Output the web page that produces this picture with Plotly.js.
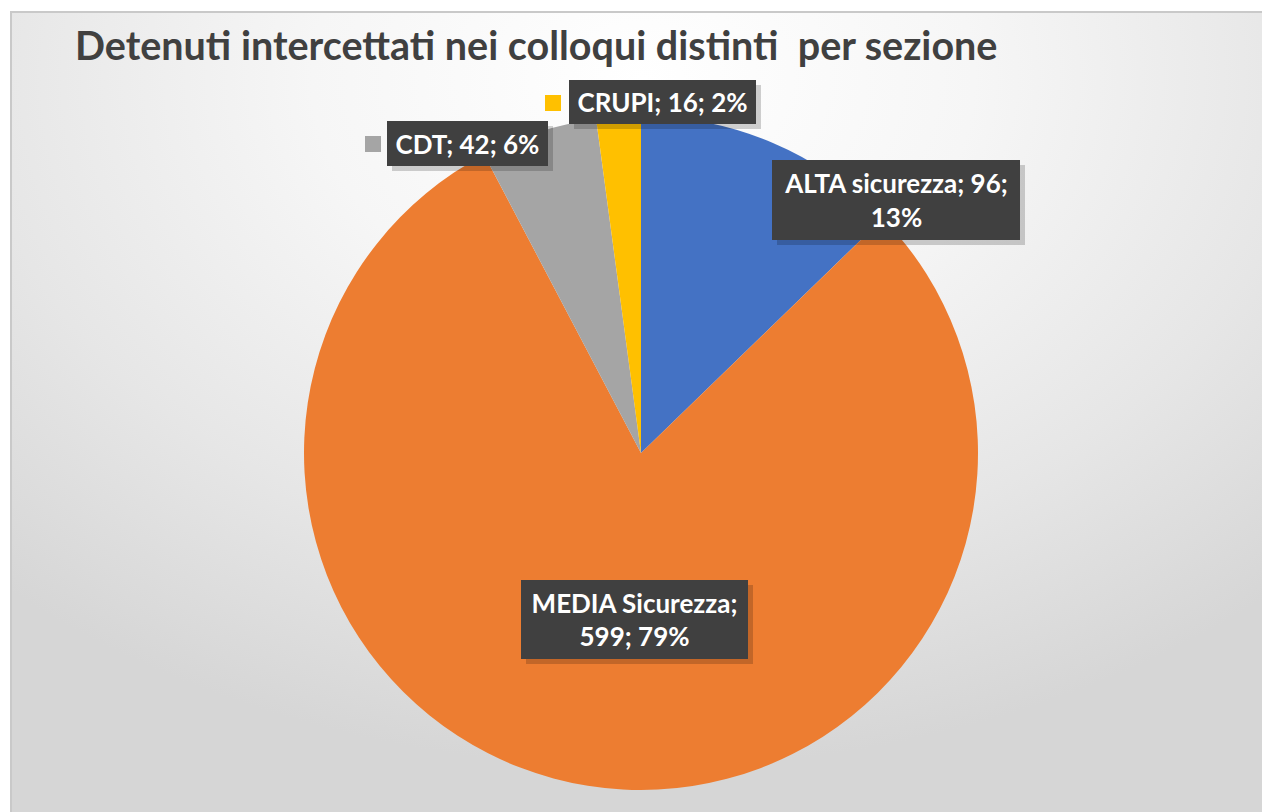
<!DOCTYPE html>
<html>
<head>
<meta charset="utf-8">
<script src="https://cdn.plot.ly/plotly-3.0.1.min.js"></script>
<style>
  html, body { margin: 0; padding: 0; background: #ffffff; width: 1262px; height: 812px; overflow: hidden; }
  #frame { position: absolute; left: 10px; top: 11px; width: 1262px; height: 812px;
    border-left: 2px solid #c9c9c9; border-top: 2px solid #c9c9c9;
    background: radial-gradient(ellipse 75% 85% at 50% 8%, #ffffff 0%, #f6f6f6 35%, #e6e6e6 70%, #d6d6d6 100%); }
  #chart { position: absolute; left: 0; top: 0; width: 1262px; height: 812px; }
</style>
</head>
<body>
<div id="frame"></div>
<div id="chart"></div>
<script>
const categories = ["ALTA sicurezza", "MEDIA Sicurezza", "CDT", "CRUPI"];
const values = [96, 599, 42, 16];
const colors = ["#4472C4", "#ED7D31", "#A5A5A5", "#FFC000"];
const titleText = "Detenuti intercettati nei colloqui distinti  per sezione";

// percentages rounded so they sum to 100 (largest remainder)
const total = values.reduce((a, b) => a + b, 0);
const raw = values.map(v => v / total * 100);
const pct = raw.map(Math.floor);
let left = 100 - pct.reduce((a, b) => a + b, 0);
raw.map((r, i) => [r - Math.floor(r), i]).sort((a, b) => b[0] - a[0])
  .slice(0, left).forEach(p => { pct[p[1]] += 1; });

const labelText = [
  categories[0] + "; " + values[0] + ";<br>" + pct[0] + "%",
  categories[1] + ";<br>" + values[1] + "; " + pct[1] + "%",
  categories[2] + "; " + values[2] + "; " + pct[2] + "%",
  categories[3] + "; " + values[3] + "; " + pct[3] + "%"
];

const W = 1262, H = 812;
// label boxes in pixels: [left, top, width, height]
const boxes = [
  [772, 160, 248, 80],
  [521, 580, 227, 79],
  [387, 121, 161, 45],
  [569, 80, 187, 44]
];
const fontFam = "Lato, 'Open Sans', sans-serif";
const annotations = [];
const shapes = [];
boxes.forEach((b, i) => {
  annotations.push({
    xref: "paper", yref: "paper", xanchor: "left", yanchor: "top",
    x: (b[0] + 5) / W, y: 1 - (b[1] + 5) / H, width: b[2], height: b[3],
    text: "", showarrow: false, bgcolor: "rgba(0,0,0,0.18)", borderpad: 0, borderwidth: 0
  });
  annotations.push({
    xref: "paper", yref: "paper", xanchor: "left", yanchor: "top",
    x: b[0] / W, y: 1 - b[1] / H, width: b[2], height: b[3],
    text: "<b>" + labelText[i] + "</b>", showarrow: false, align: "center", valign: "middle",
    bgcolor: "#404040", borderpad: 0, borderwidth: 0,
    font: { family: fontFam, size: 26, color: "#ffffff" }
  });
});
// legend keys next to outside labels
const keys = [[2, 365, 136], [3, 545, 95]];
keys.forEach(k => {
  shapes.push({
    type: "rect", xref: "paper", yref: "paper",
    x0: k[1] / W, x1: (k[1] + 16) / W, y0: 1 - k[2] / H, y1: 1 - (k[2] + 16) / H,
    fillcolor: colors[k[0]], line: { width: 0 }
  });
});

const data = [{
  type: "pie",
  labels: categories,
  values: values,
  sort: false,
  direction: "clockwise",
  rotation: 0,
  marker: { colors: colors, line: { width: 0 } },
  textinfo: "none",
  hoverinfo: "label+value+percent",
  domain: { x: [304 / W, 978 / W], y: [22 / H, 696 / H] },
  showlegend: false
}];

const layout = {
  width: W, height: H,
  margin: { l: 0, r: 0, t: 0, b: 0 },
  paper_bgcolor: "rgba(0,0,0,0)",
  plot_bgcolor: "rgba(0,0,0,0)",
  title: {
    text: "<b>" + titleText + "</b>",
    font: { family: fontFam, size: 39.5, color: "#404040" },
    x: 75 / W, xanchor: "left", xref: "paper",
    y: 1 - 46 / H, yanchor: "middle"
  },
  annotations: annotations,
  shapes: shapes,
  showlegend: false
};

Plotly.newPlot("chart", data, layout, { displayModeBar: false, staticPlot: true });
</script>
</body>
</html>
